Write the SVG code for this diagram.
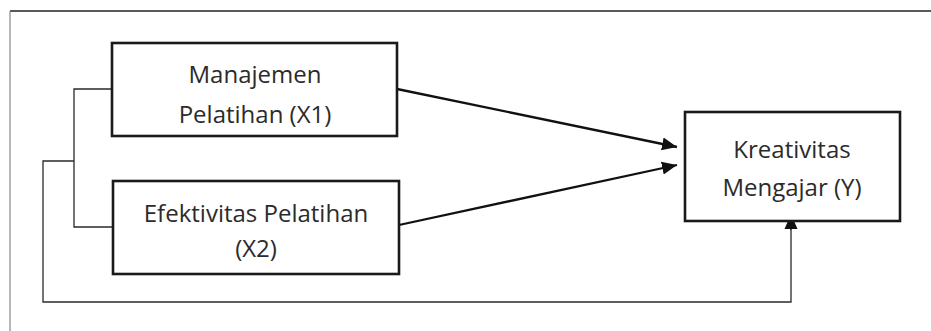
<svg xmlns="http://www.w3.org/2000/svg" width="931" height="331" viewBox="0 0 931 331">
  <style>
    .box { fill: #fff; stroke: #1a1a1a; stroke-width: 2.6; }
    .lbl { font-family: "Open Sans", Lato, "Liberation Sans", sans-serif; font-size: 24px; fill: #2b2b2b; text-anchor: middle; }
    .thin { fill: none; stroke: #2a2a2a; stroke-width: 1.3; }
    .arr { fill: none; stroke: #111; stroke-width: 2.3; }
  </style>
  <defs>
    <marker id="head" markerUnits="userSpaceOnUse" markerWidth="16" markerHeight="14" refX="15" refY="7" orient="auto">
      <path d="M0,0.5 L15,7 L0,13.5 Z" fill="#111"/>
    </marker>
  </defs>
  <rect width="931" height="331" fill="#fff"/>
  <!-- frame -->
  <line x1="10" y1="11" x2="931" y2="11" stroke="#222" stroke-width="1.6"/>
  <line x1="10" y1="11" x2="10" y2="331" stroke="#888" stroke-width="1.2"/>

  <g id="connectors">
    <polyline class="thin" points="112,89 74,89 74,227 113,227"/>
    <polyline class="thin" points="74,161 43,161 43,302 791,302 791,226"/>
    <line class="thin" x1="791" y1="230" x2="791" y2="214" stroke-width="1.8" marker-end="url(#head)"/>
    <line class="arr" x1="397" y1="89" x2="677" y2="147" marker-end="url(#head)"/>
    <line class="arr" x1="399" y1="225" x2="677" y2="165" marker-end="url(#head)"/>
  </g>

  <g id="x1">
    <rect class="box" x="112" y="43" width="285" height="93"/>
    <text class="lbl" x="255" y="83">Manajemen</text>
    <text class="lbl" x="255" y="123">Pelatihan (X1)</text>
  </g>
  <g id="x2">
    <rect class="box" x="113" y="181" width="286" height="93"/>
    <text class="lbl" x="256" y="222">Efektivitas Pelatihan</text>
    <text class="lbl" x="256" y="257">(X2)</text>
  </g>
  <g id="y">
    <rect class="box" x="685" y="112" width="215" height="109"/>
    <text class="lbl" x="792" y="158">Kreativitas</text>
    <text class="lbl" x="792" y="196">Mengajar (Y)</text>
  </g>
</svg>
